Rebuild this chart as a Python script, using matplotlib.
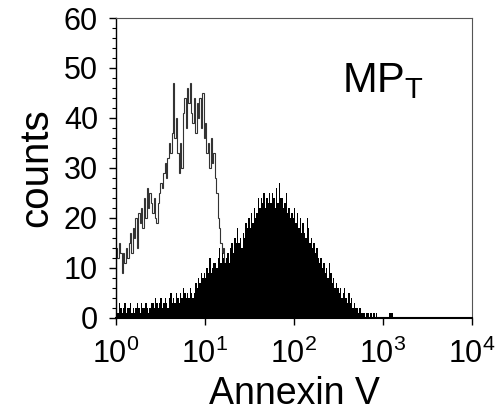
import numpy as np
import matplotlib.pyplot as plt

plt.rcParams['font.family'] = ['Liberation Sans', 'DejaVu Sans']
plt.rcParams['mathtext.fontset'] = 'custom'
plt.rcParams['mathtext.rm'] = 'Liberation Sans'
plt.rcParams['mathtext.it'] = 'Liberation Sans:italic'

# 256 log channels over 4 decades (64 per decade)
n_channels = 256
per_decade = 64

# unstained / control histogram (open), counts per channel from channel 0
open_counts = [14, 12, 15, 13, 9, 13, 11, 14, 12, 15, 17, 13, 18, 16, 20, 14,
               21, 19, 22, 18, 24, 20, 26, 22, 25, 23, 21, 24, 20, 19, 23, 25,
               27, 26, 29, 31, 28, 32, 35, 33, 37, 47, 36, 40, 33, 29, 35, 30,
               41, 44, 38, 46, 43, 47, 41, 39, 44, 37, 43, 40, 44, 38, 45, 36,
               39, 33, 35, 30, 36, 31, 33, 28, 25, 20, 18, 15, 13, 14, 11, 10,
               9, 8, 7, 6, 5, 4, 3, 3, 2, 2, 1, 1, 1]

# annexin V stained histogram (filled), counts per channel from channel 0
filled_counts = [2, 1, 3, 2, 1, 2, 3, 1, 2, 2, 3, 1, 2, 1, 2, 3,
                 2, 1, 3, 2, 2, 3, 2, 1, 2, 3, 3, 2, 4, 3, 2, 3,
                 4, 2, 3, 4, 3, 2, 4, 5, 3, 4, 3, 5, 4, 3, 5, 4,
                 6, 5, 4, 5, 4, 6, 5, 4, 5, 7, 6, 8, 7, 9, 8, 9,
                 8, 10, 9, 12, 9, 10, 11, 11, 10, 12, 14, 11, 13, 12, 11, 12,
                 13, 11, 14, 15, 13, 16, 15, 18, 15, 16, 14, 17, 16, 19, 18, 20,
                 18, 21, 19, 22, 20, 21, 24, 22, 24, 23, 25, 22, 24, 23, 25, 23,
                 25, 24, 22, 26, 23, 27, 24, 24, 22, 23, 25, 21, 22, 20, 21, 20,
                 22, 19, 21, 18, 20, 17, 19, 17, 16, 20, 18, 15, 16, 14, 15, 13,
                 14, 12, 11, 12, 10, 11, 9, 10, 8, 11, 9, 7, 8, 6, 7, 6,
                 5, 6, 4, 5, 6, 4, 3, 5, 3, 4, 2, 3, 2, 2, 1, 2,
                 1, 1, 1, 0, 1, 1, 0, 1, 0, 1, 0, 1, 0, 0, 0, 0,
                 0, 0, 0, 0, 1, 1, 1, 0, 0]

edges = 10 ** (np.arange(n_channels + 1) / per_decade)


def pad(counts):
    out = np.zeros(n_channels)
    out[:len(counts)] = counts
    return out


fig = plt.figure(figsize=(4.97, 4.11), dpi=100)
ax = fig.add_axes([0.2334, 0.2263, 0.7163, 0.7299])

ax.stairs(pad(open_counts), edges, color='#333333', linewidth=0.8)
ax.stairs(pad(filled_counts), edges, fill=True, color='black', linewidth=0)

ax.set_xscale('log')
ax.set_xlim(1, 1e4)
ax.set_ylim(0, 60)
ax.set_yticks(range(0, 61, 10))
ax.set_yticks(range(0, 61, 2), minor=True)
ax.set_xticks([1, 10, 100, 1000, 10000])
ax.set_xticklabels([r'$\mathregular{10^{%d}}$' % i for i in range(5)])

ax.tick_params(axis='both', which='major', direction='out', length=5, width=1,
               labelsize=22)
ax.tick_params(axis='y', which='major', pad=8)
ax.tick_params(axis='x', which='major', pad=10)
ax.tick_params(axis='both', which='minor', direction='out', length=3, width=0.8)

for side in ['top', 'right']:
    ax.spines[side].set_color('#555555')
    ax.spines[side].set_linewidth(0.8)
ax.spines['left'].set_linewidth(1.0)
ax.spines['bottom'].set_linewidth(1.5)

ax.set_ylabel('counts', fontsize=29, labelpad=6)
ax.set_xlabel('Annexin V', fontsize=27, labelpad=4)

ax.text(0.635, 0.753, r'MP$_{\mathregular{T}}$', transform=ax.transAxes, fontsize=30)

fig.savefig('out.png', dpi=100)
